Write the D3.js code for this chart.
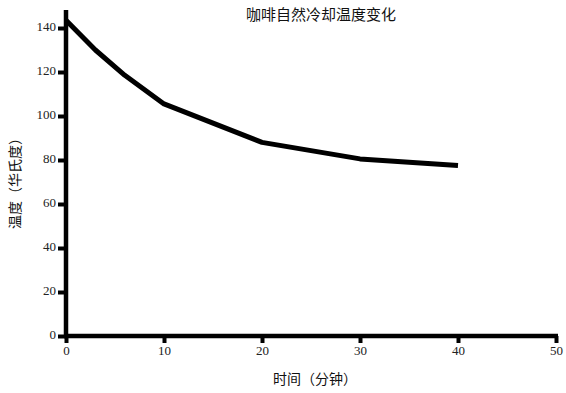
<!DOCTYPE html>
<html><head><meta charset="utf-8">
<script src="https://cdn.jsdelivr.net/npm/d3@7/dist/d3.min.js"></script>
<style>body{margin:0;background:#fff}svg{display:block}.tick text{font-family:"Liberation Serif","Times New Roman",serif !important;}</style>
</head><body><svg id="c" width="566" height="393"></svg>
<script>
const title = "咖啡自然冷却温度变化";
const xLabel = "时间（分钟）";
const yLabel = "温度（华氏度）";
const times = [0, 3, 6, 10, 20, 30, 40];
const temps = [143.5, 130, 118.5, 105.5, 88, 80.5, 77.5];
const xTicks = [0, 10, 20, 30, 40, 50];
const yTicks = [0, 20, 40, 60, 80, 100, 120, 140];

const svg = d3.select("#c");
const x = d3.scaleLinear().domain([0, 50]).range([66, 556]);
const y = d3.scaleLinear().domain([0, 140]).range([336, 28]);

const serif = "Liberation Serif, Times New Roman, serif";
const cjk = "'Noto Sans CJK SC','Noto Sans',sans-serif";

// axes
const xa = svg.append("g").attr("transform", "translate(0,336)")
  .call(d3.axisBottom(x).tickValues(xTicks).tickSize(7).tickPadding(3).tickFormat(d3.format("d")));
const ya = svg.append("g").attr("transform", "translate(66,0)")
  .call(d3.axisLeft(y).tickValues(yTicks).tickSize(8).tickPadding(2).tickFormat(d3.format("d")));
[xa, ya].forEach(g => {
  g.attr("font-family", serif).attr("font-size", 13);
  g.select(".domain").remove();
  g.selectAll(".tick line").attr("stroke", "#000").attr("stroke-width", 4);
  g.selectAll(".tick text").attr("fill", "#222");
});
ya.selectAll(".tick text").attr("dy", "0.2em");
// axis lines
svg.append("line").attr("x1", x(0)).attr("x2", x(0)).attr("y1", 10).attr("y2", 338)
  .attr("stroke", "#000").attr("stroke-width", 4.5);
svg.append("line").attr("x1", x(0) - 2).attr("x2", x(50) + 2).attr("y1", y(0)).attr("y2", y(0))
  .attr("stroke", "#000").attr("stroke-width", 4.5);

// data line
const pts = times.map((t, i) => [t, temps[i]]);
svg.append("path").datum(pts)
  .attr("d", d3.line().x(d => x(d[0])).y(d => y(d[1])))
  .attr("fill", "none").attr("stroke", "#000").attr("stroke-width", 5)
  .attr("stroke-linejoin", "round");

// texts
svg.append("text").attr("x", 321).attr("y", 20).attr("text-anchor", "middle")
  .style("font-family", cjk).style("font-size", "15px").attr("fill", "#111").text(title);
svg.append("text").attr("x", 315).attr("y", 384).attr("text-anchor", "middle")
  .style("font-family", cjk).style("font-size", "14px").attr("fill", "#111").text(xLabel);
svg.append("text").attr("transform", "translate(20,180) rotate(-90)").attr("text-anchor", "middle")
  .style("font-family", cjk).style("font-size", "14px").attr("fill", "#111").text(yLabel);
</script></body></html>
